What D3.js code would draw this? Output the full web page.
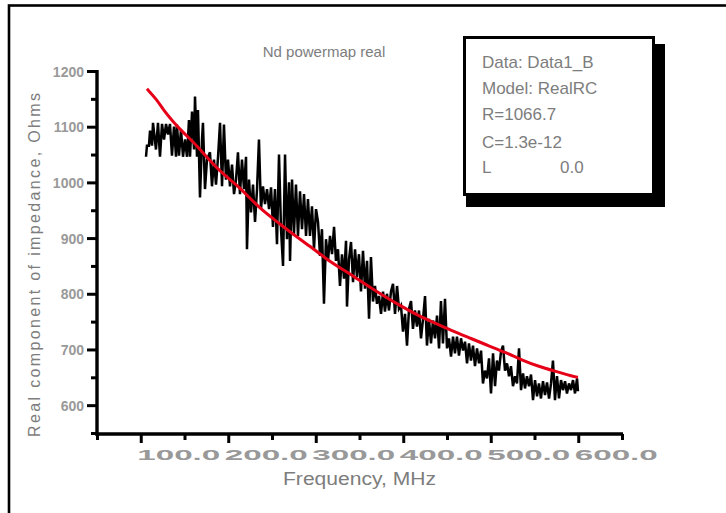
<!DOCTYPE html>
<html>
<head>
<meta charset="utf-8">
<script src="https://cdn.jsdelivr.net/npm/d3@7"></script>
<style>
  html, body { margin: 0; padding: 0; background: #fff; }
  svg { display: block; font-family: Arial, "Liberation Sans", sans-serif; }
</style>
</head>
<body>
<svg id="chart" width="726" height="513"></svg>
<script>
// Measured real part of the impedance versus frequency
const freqMHz = [
  106, 107.1, 109.4, 110.6, 112.9, 114, 117.4, 119.7, 122, 124.3,
  126.6, 128.9, 131.1, 133.4, 135.7, 138, 140.3, 141.4, 143.7, 146,
  148.3, 150.6, 152.9, 155.1, 156.3, 158.6, 160.9, 162, 164.3, 165.4,
  167.7, 170, 171.1, 173.4, 175.7, 179.1, 181.4, 183.7, 186, 188.3,
  190.6, 192.9, 195.1, 197.4, 199.7, 202, 204.3, 206.6, 208.9, 211.1,
  213.4, 215.7, 218, 220.3, 221.4, 223.7, 226, 228.3, 230.6, 232.9,
  235.1, 237.4, 239.7, 242, 244.3, 246.6, 248.9, 251.1, 253.4, 255.7,
  258, 260.3, 262.6, 264.9, 267.1, 269.4, 270.6, 272.9, 275.1, 277.4,
  279.7, 282, 284.3, 286.6, 288.9, 291.1, 293.4, 295.7, 298, 300.3,
  302.6, 304.9, 307.1, 309.4, 311.7, 314, 316.3, 318.6, 320.9, 323.1,
  325.4, 327.7, 330, 332.3, 334.6, 335.7, 338, 340.3, 342.6, 344.9,
  347.1, 349.4, 351.7, 354, 356.3, 358.6, 360.9, 363.1, 365.4, 367.7,
  370, 372.3, 374.6, 376.9, 379.1, 381.4, 383.7, 386, 388.3, 390.6,
  392.9, 395.1, 397.4, 399.7, 402, 404.3, 406.6, 408.9, 411.1, 413.4,
  415.7, 418, 420.3, 422.6, 424.9, 427.1, 429.4, 431.7, 434, 436.3,
  438.6, 440.9, 443.1, 445.4, 447.7, 450, 452.3, 454.6, 456.9, 459.1,
  461.4, 463.7, 466, 468.3, 470.6, 472.9, 475.1, 477.4, 479.7, 482,
  484.3, 486.6, 488.9, 491.1, 493.4, 495.7, 498, 500.3, 502.6, 504.9,
  507.1, 509.4, 511.7, 514, 516.3, 518.6, 520.9, 523.1, 525.4, 527.7,
  530, 532.3, 534.6, 536.9, 539.1, 541.4, 543.7, 546, 548.3, 550.6,
  552.9, 555.1, 557.4, 559.7, 562, 564.3, 566.6, 568.9, 571.1, 573.4,
  575.7, 578, 580.3, 582.6, 584.9, 587.1, 589.4, 591.7, 594, 596.3,
  598.6, 599.7
];
const reOhm = [
  1046, 1066, 1066, 1093, 1066, 1107, 1059, 1107, 1046, 1105,
  1077, 1105, 1086, 1105, 1048, 1100, 1046, 1104, 1048, 1095,
  1046, 1077, 1046, 1112, 1046, 1127, 1059, 1154, 1046, 1130,
  973, 1077, 1107, 988, 1041, 1054, 993, 1041, 996, 1045,
  1107, 993, 1104, 1005, 1041, 993, 1032, 979, 1005, 1054,
  979, 1041, 988, 1046, 880, 1005, 946, 996, 929, 988,
  1077, 952, 993, 961, 988, 952, 991, 920, 988, 889,
  1050, 916, 850, 1050, 898, 1000, 859, 1005, 907, 996,
  904, 984, 916, 979, 904, 970, 904, 957, 880, 952,
  929, 868, 916, 782, 898, 859, 904, 871, 920, 859,
  880, 814, 871, 827, 895, 777, 862, 893, 821, 880,
  830, 871, 804, 877, 809, 859, 755, 866, 786, 814,
  782, 796, 764, 804, 768, 800, 770, 804, 818, 764,
  814, 773, 779, 732, 764, 707, 773, 787, 737, 770,
  741, 770, 720, 755, 796, 707, 755, 711, 752, 720,
  761, 702, 787, 711, 791, 702, 720, 687, 723, 693,
  723, 689, 720, 698, 714, 675, 711, 680, 707, 670,
  702, 675, 698, 639, 662, 648, 684, 621, 693, 634,
  680, 662, 696, 707, 662, 675, 652, 670, 634, 652,
  639, 702, 627, 657, 630, 652, 634, 655, 609, 645,
  616, 639, 612, 643, 618, 641, 612, 639, 680, 609,
  652, 612, 645, 627, 643, 621, 639, 627, 645, 621,
  648, 625
];

// Fitted RealRC model curve
const fitFreqMHz = [
  107.1, 118.6, 125.4, 136.9, 148.3, 159.7, 170, 179.1, 194, 210,
  222.6, 238.6, 256.9, 276.3, 295.7, 314, 333.4, 342.6, 358.6, 376.9,
  396.3, 415.7, 434, 453.4, 478.6, 496.9, 516.3, 535.7, 554, 573.4,
  592.9, 599.7
];
const fitOhm = [
  1168, 1148, 1131, 1109, 1090, 1073, 1055, 1039, 1015, 995,
  975, 950, 928, 904, 883, 860, 841, 832, 815, 797,
  779, 762, 749, 735, 719, 707, 695, 681, 670, 661,
  652, 650
];

const xMajorTicks = [100, 200, 300, 400, 500, 600];
const xMinorTicks = [50, 150, 250, 350, 450, 550, 650];
const yMajorTicks = [600, 700, 800, 900, 1000, 1100, 1200];
const yMinorTicks = [550, 650, 750, 850, 950, 1050, 1150];

const chartTitle = "Nd powermap real";
const xTitle = "Frequency, MHz";
const yTitle = "Real component of impedance, Ohms";
const legendLines = ["Data: Data1_B", "Model: RealRC", "R=1066.7", "C=1.3e-12"];
const legendLastName = "L";
const legendLastValue = "0.0";

const svg = d3.select("#chart");

// outer frame (open to the right and bottom)
svg.append("rect")
  .attr("x", 9).attr("y", 5.5).attr("width", 740).attr("height", 540)
  .attr("fill", "none").attr("stroke", "#000").attr("stroke-width", 2.6);

const x = d3.scaleLinear().domain([50, 650]).range([97, 622]);
const y = d3.scaleLinear().domain([550, 1200]).range([433, 71]);

const gray = "#999";

// y axis: minor ticks, then major ticks with labels
const yMinor = svg.append("g").attr("transform", "translate(97,0)")
  .call(d3.axisLeft(y).tickValues(yMinorTicks).tickSize(6).tickSizeOuter(0).tickFormat(""));
const yMajor = svg.append("g").attr("transform", "translate(97,0)")
  .call(d3.axisLeft(y).tickValues(yMajorTicks).tickSize(10).tickSizeOuter(0).tickPadding(4).tickFormat(d3.format("d")));
[yMinor, yMajor].forEach(g => {
  g.select(".domain").remove();
  g.selectAll(".tick line").attr("stroke", "#000").attr("stroke-width", 3);
});
yMajor.selectAll(".tick text")
  .attr("fill", gray).attr("font-size", 14).attr("font-weight", "bold")
  .attr("x", -13).attr("dy", "0.36em");
svg.append("line").attr("x1", 97).attr("x2", 97).attr("y1", 70).attr("y2", 436)
  .attr("stroke", "#000").attr("stroke-width", 3.4);

// x axis
const xMinor = svg.append("g").attr("transform", "translate(0,434)")
  .call(d3.axisBottom(x).tickValues(xMinorTicks).tickSize(6).tickSizeOuter(0).tickFormat(""));
const xMajor = svg.append("g").attr("transform", "translate(0,434)")
  .call(d3.axisBottom(x).tickValues(xMajorTicks).tickSize(9).tickSizeOuter(0).tickFormat(d3.format(".1f")));
[xMinor, xMajor].forEach(g => {
  g.select(".domain").remove();
  g.selectAll(".tick line").attr("stroke", "#000").attr("stroke-width", 3);
});
xMajor.selectAll(".tick text")
  .attr("fill", gray).attr("font-size", 14).attr("font-weight", "bold")
  .attr("text-anchor", "start").attr("x", -4).attr("y", 16).attr("dy", "0.71em")
  .attr("textLength", 83).attr("lengthAdjust", "spacingAndGlyphs");
svg.append("line").attr("x1", 96).attr("x2", 623).attr("y1", 434).attr("y2", 434)
  .attr("stroke", "#000").attr("stroke-width", 3.4);

// measured data trace
const pts = freqMHz.map((f, i) => [f, reOhm[i]]);
svg.append("path")
  .datum(pts)
  .attr("fill", "none").attr("stroke", "#000").attr("stroke-width", 2.5)
  .attr("stroke-linejoin", "miter")
  .attr("d", d3.line().x(d => x(d[0])).y(d => y(d[1])));

// model fit
const fitPts = fitFreqMHz.map((f, i) => [f, fitOhm[i]]);
svg.append("path")
  .datum(fitPts)
  .attr("fill", "none").attr("stroke", "#e60018").attr("stroke-width", 3)
  .attr("d", d3.line().curve(d3.curveBasis).x(d => x(d[0])).y(d => y(d[1])));

// titles
const textGray = "#7d7d7d";
svg.append("text").attr("x", 324).attr("y", 57)
  .attr("text-anchor", "middle").attr("font-size", 15).attr("fill", textGray)
  .text(chartTitle);
svg.append("text").attr("x", 283).attr("y", 485)
  .attr("font-size", 18).attr("fill", textGray)
  .attr("textLength", 153).attr("lengthAdjust", "spacingAndGlyphs")
  .text(xTitle);
svg.append("text")
  .attr("transform", "translate(40,437) rotate(-90)")
  .attr("font-size", 16).attr("fill", textGray)
  .attr("textLength", 344).attr("lengthAdjust", "spacing")
  .text(yTitle);

// legend box with drop shadow
svg.append("rect").attr("x", 466).attr("y", 44).attr("width", 199).attr("height", 163).attr("fill", "#000");
svg.append("rect").attr("x", 464.5).attr("y", 37.5).attr("width", 189).attr("height", 157)
  .attr("fill", "#fff").attr("stroke", "#000").attr("stroke-width", 3);
const legendY = [68, 94, 120, 148];
svg.append("g").selectAll("text").data(legendLines).join("text")
  .attr("x", 482).attr("y", (d, i) => legendY[i])
  .attr("font-size", 17).attr("fill", textGray)
  .text(d => d);
svg.append("text").attr("x", 482).attr("y", 173)
  .attr("font-size", 17).attr("fill", textGray).text(legendLastName);
svg.append("text").attr("x", 560).attr("y", 173)
  .attr("font-size", 17).attr("fill", textGray).text(legendLastValue);
</script>
</body>
</html>
